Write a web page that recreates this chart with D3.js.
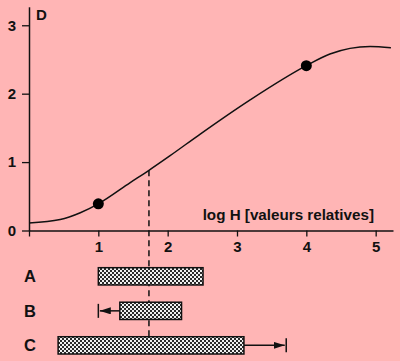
<!DOCTYPE html>
<html><head><meta charset="utf-8">
<script src="https://cdn.jsdelivr.net/npm/d3@7"></script>
<style>
html,body{margin:0;padding:0;background:#ffb5b5;}
svg{display:block;}
text{font-family:"Liberation Sans",Arial,sans-serif;font-weight:bold;fill:#111;}
</style></head>
<body>
<script>
// ---- data ----
const curveLogH = [0, 0.45, 0.74, 1, 1.46, 1.73, 2.03, 2.47, 3.19, 4, 4.34, 4.92, 5.22];
const curveD    = [0.11, 0.16, 0.26, 0.39, 0.70, 0.88, 1.09, 1.41, 1.91, 2.41, 2.58, 2.69, 2.67];
const pointLogH = [1, 4];
const pointD    = [0.39, 2.41];
const markerLogH = 1.73;
const xTicks = [1, 2, 3, 4, 5];
const yTicks = [0, 1, 2, 3];
const rangeLabels = ["A", "B", "C"];
const rangeStart  = [1.0, 1.31, 0.42];
const rangeEnd    = [2.51, 2.2, 3.1];
const rangeArrow  = [null, 1.0, 3.71];
const xTitle = "log H [valeurs relatives]";
const yTitle = "D";

const W = 400, H = 361;
const svg = d3.select("body").append("svg").attr("width", W).attr("height", H);
svg.append("rect").attr("width", W).attr("height", H).attr("fill", "#ffb5b5");

const defs = svg.append("defs");
const pat = defs.append("pattern").attr("id", "chk").attr("patternUnits", "userSpaceOnUse")
  .attr("width", 4).attr("height", 4);
pat.append("rect").attr("width", 4).attr("height", 4).attr("fill", "#f0f0f0");
pat.append("rect").attr("x", 0).attr("y", 0).attr("width", 2).attr("height", 2).attr("fill", "#2a2a2a");
pat.append("rect").attr("x", 2).attr("y", 2).attr("width", 2).attr("height", 2).attr("fill", "#2a2a2a");
defs.append("marker").attr("id", "arr").attr("viewBox", "0 0 11 7").attr("refX", 11).attr("refY", 3.5)
  .attr("markerWidth", 11).attr("markerHeight", 7).attr("markerUnits", "userSpaceOnUse")
  .attr("orient", "auto").append("path").attr("d", "M0,0L11,3.5L0,7Z").attr("fill", "#111");

const x = d3.scaleLinear().domain([0, 5.25]).range([29, 393]);
const y = d3.scaleLinear().domain([0, 3.27]).range([230.5, 6.8]);

// axes
const gx = svg.append("g").attr("transform", `translate(0,${y(0)})`)
  .call(d3.axisBottom(x).tickValues([0, ...xTicks]).tickSize(6).tickPadding(5).tickSizeOuter(0)
  .tickFormat(d => d === 0 ? "" : d3.format("d")(d)));
const gy = svg.append("g").attr("transform", `translate(${x(0)},0)`)
  .call(d3.axisLeft(y).tickValues(yTicks).tickSize(7).tickPadding(6).tickSizeOuter(0)
  .tickFormat(d3.format("d")));
[gx, gy].forEach(g => {
  g.selectAll("path.domain").attr("stroke", "#111").attr("stroke-width", 1.5);
  g.selectAll(".tick line").attr("stroke", "#111").attr("stroke-width", 1.3);
  g.selectAll(".tick text").attr("font-size", 15).attr("font-weight", "bold")
    .attr("font-family", "Liberation Sans, Arial, sans-serif").attr("fill", "#111");
});

svg.append("text").attr("x", 36).attr("y", 19.5).attr("font-size", 15).text(yTitle);
svg.append("text").attr("x", 374).attr("y", 220).attr("text-anchor", "end").attr("font-size", 15.2).text(xTitle);

// curve
const pts = curveLogH.map((v, i) => [v, curveD[i]]);
svg.append("path").datum(pts)
  .attr("d", d3.line().x(d => x(d[0])).y(d => y(d[1])).curve(d3.curveMonotoneX))
  .attr("fill", "none").attr("stroke", "#111").attr("stroke-width", 1.5);

svg.selectAll("circle.pt").data(pointLogH).enter().append("circle")
  .attr("cx", d => x(d)).attr("cy", (d, i) => y(pointD[i])).attr("r", 5.5).attr("fill", "#000");

// bars
const rowY = d3.scaleBand().domain(rangeLabels).range([267.7, 354]).paddingInner(0.5).paddingOuter(0);
// dashed marker line
const markerD = d3.scaleLinear().domain(curveLogH).range(curveD)(markerLogH);
svg.append("line").attr("x1", x(markerLogH)).attr("x2", x(markerLogH))
  .attr("y1", y(markerD)).attr("y2", 337)
  .attr("stroke", "#111").attr("stroke-width", 1.5).attr("stroke-dasharray", "6,4");

rangeLabels.forEach((lab, i) => {
  const yc = rowY(lab) + rowY.bandwidth() / 2;
  svg.append("text").attr("x", 24).attr("y", yc + 6).attr("font-size", 16.5).text(lab);
  if (rangeArrow[i] !== null) {
    const from = rangeArrow[i] < rangeStart[i] ? rangeStart[i] : rangeEnd[i];
    const dir = rangeArrow[i] < rangeStart[i] ? 1 : -1;
    svg.append("line").attr("x1", x(from)).attr("x2", x(rangeArrow[i]) + dir * 1.5)
      .attr("y1", yc).attr("y2", yc).attr("stroke", "#111").attr("stroke-width", 1.5)
      .attr("marker-end", "url(#arr)");
    svg.append("line").attr("x1", x(rangeArrow[i])).attr("x2", x(rangeArrow[i]))
      .attr("y1", yc - 7).attr("y2", yc + 7).attr("stroke", "#111").attr("stroke-width", 1.5);
  }
  svg.append("rect").attr("x", x(rangeStart[i])).attr("y", rowY(lab))
    .attr("width", x(rangeEnd[i]) - x(rangeStart[i])).attr("height", rowY.bandwidth())
    .attr("fill", "url(#chk)").attr("stroke", "#111").attr("stroke-width", 1.5);
});
</script>
</body></html>
